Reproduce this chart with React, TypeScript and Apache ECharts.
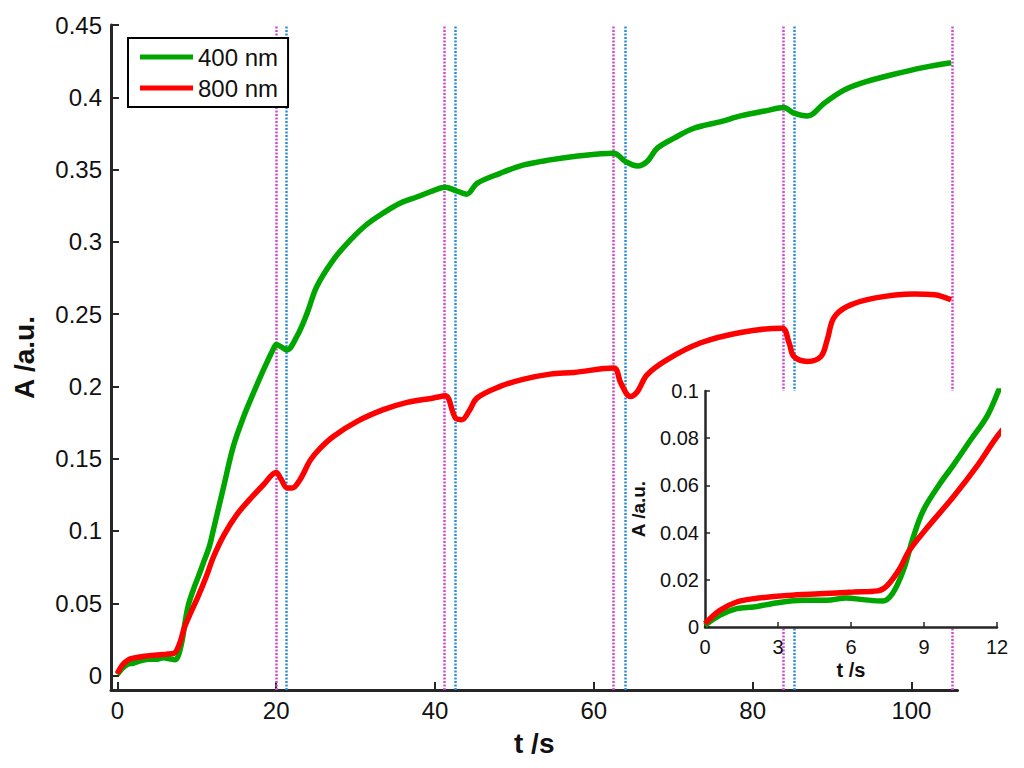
import React, { useEffect, useRef } from "react";
import * as echarts from "echarts";

// ---- data ----
const seriesNames = ["400 nm", "800 nm"];

const tGreen = [
  0, 0.6, 1.3, 2.0, 3.0, 4.0, 5.0, 5.8, 6.5, 7.3, 7.7, 8.15, 8.56, 8.97, 9.66, 10.2, 10.9, 11.6, 12.1,
  13.4, 14.6, 15.9, 17.1, 18.4, 19.8, 20.0, 20.6, 21.35, 22.6, 23.9, 25.1, 27.2, 29.3, 31.4, 33.5, 35.6,
  37.7, 39.8, 41.3, 42.6, 44.0, 45.3, 48.2, 51.2, 54.5, 57.5, 62.5, 64.0, 65.5, 66.7, 68.0, 70.1, 72.6,
  76.0, 78.5, 81.8, 83.9, 85.2, 86.9, 87.7, 89.0, 91.5, 93.6, 97.4, 101.6, 105.0,
];
const aGreen = [
  0.0007, 0.0049, 0.0078, 0.0085, 0.0103, 0.0113, 0.0113, 0.0123, 0.0116, 0.011, 0.0141, 0.024, 0.0381,
  0.0494, 0.0608, 0.0685, 0.079, 0.0895, 0.101, 0.131, 0.1585, 0.179, 0.195, 0.2115, 0.2276, 0.229, 0.2275,
  0.2253, 0.2345, 0.2507, 0.269, 0.2876, 0.301, 0.312, 0.32, 0.3267, 0.331, 0.3355, 0.3378, 0.3355, 0.333,
  0.3405, 0.3474, 0.3532, 0.3567, 0.359, 0.3613, 0.3555, 0.3525, 0.3555, 0.3648, 0.3717, 0.3786, 0.3832,
  0.3871, 0.3908, 0.3929, 0.389, 0.3871, 0.389, 0.3958, 0.405, 0.4097, 0.4154, 0.4207, 0.4239,
];

const tRed = [
  0, 0.6, 1.3, 2.0, 3.4, 4.7, 6.1, 7.1, 7.5, 8.0, 8.4, 9.1, 10.2, 11.2, 12.1, 13.4, 15.0, 16.7, 18.4,
  20.0, 20.6, 21.4, 22.0, 23.0, 24.3, 25.5, 27.2, 30.2, 33.5, 36.5, 39.8, 41.3, 42.6, 43.4, 44.3, 45.3,
  48.2, 51.2, 54.5, 57.5, 62.5, 63.4, 64.6, 65.5, 66.7, 69.2, 73.4, 78.5, 83.7, 84.6, 85.2, 86.9, 88.6,
  89.4, 90.2, 91.9, 95.3, 100.3, 102.9, 105.0,
];
const aRed = [
  0.0014, 0.007, 0.0106, 0.012, 0.0134, 0.0141, 0.0148, 0.0153, 0.0177, 0.0247, 0.0325, 0.0417, 0.0551,
  0.0685, 0.082, 0.097, 0.111, 0.122, 0.132, 0.1405, 0.136, 0.1297, 0.1297, 0.1355, 0.149, 0.157, 0.1654,
  0.1758, 0.1839, 0.189, 0.192, 0.1935, 0.178, 0.177, 0.183, 0.192, 0.2, 0.205, 0.2085, 0.2097, 0.2127,
  0.2023, 0.193, 0.1965, 0.208, 0.2184, 0.23, 0.2373, 0.2403, 0.23, 0.2207, 0.2173, 0.2207, 0.2323, 0.2472,
  0.2553, 0.2611, 0.264, 0.2634, 0.2599,
];

const pinkTimes = [20.0, 41.2, 62.5, 83.9, 105.2];
const blueTimes = [21.3, 42.5, 63.9, 85.2];

const xTicks = [0, 20, 40, 60, 80, 100];
const yTicks = [0, 0.05, 0.1, 0.15, 0.2, 0.25, 0.3, 0.35, 0.4, 0.45];
const insetXTicks = [0, 3, 6, 9, 12];
const insetYTicks = [0, 0.02, 0.04, 0.06, 0.08, 0.1];

const GREEN = "#00a600";
const RED = "#ff0000";
const PINK = "#d04ed0";
const BLUE = "#2b8fd8";
const AXIS = "#262626";
const FONT = "'Liberation Sans', Arial, Helvetica, sans-serif";

const zip = (t: number[], a: number[]) => t.map((v, i) => [v, a[i]]);

export default function App() {
  const ref = useRef<HTMLDivElement>(null);

  useEffect(() => {
    if (!ref.current) return;
    const chart = echarts.init(ref.current, undefined, { renderer: "svg" });
    const greenData = zip(tGreen, aGreen);
    const redData = zip(tRed, aRed);

    const vLines = [
      ...pinkTimes.map((t) => ({ xAxis: t, lineStyle: { color: PINK } })),
      ...blueTimes.map((t) => ({ xAxis: t, lineStyle: { color: BLUE } })),
    ];

    const lineCommon = {
      type: "line",
      symbol: "none",
      showSymbol: false,
      smooth: 0.35,
    };

    chart.setOption({
      animation: false,
      backgroundColor: "#ffffff",
      textStyle: { fontFamily: FONT, color: "#111" },
      legend: {
        data: seriesNames,
        orient: "vertical",
        left: 128,
        top: 38,
        padding: [7, 10, 7, 12],
        itemGap: 7,
        icon: "rect",
        itemWidth: 53,
        itemHeight: 5,
        borderColor: "#000",
        borderWidth: 2,
        borderRadius: 0,
        backgroundColor: "#fff",
        textStyle: { fontSize: 24, color: "#111", fontFamily: FONT, lineHeight: 24 },
        z: 30,
      },
      grid: [
        { left: 111, right: 66.5, top: 25, bottom: 78, containLabel: false },
        {
          left: 705,
          right: 27,
          top: 391,
          bottom: 141,
          show: true,
          backgroundColor: "#ffffff",
          borderWidth: 0,
          z: 20,
        },
      ],
      xAxis: [
        {
          type: "value",
          gridIndex: 0,
          min: -0.8,
          max: 105.8,
          name: "t /s",
          nameLocation: "middle",
          nameGap: 39,
          nameTextStyle: { fontSize: 28, fontWeight: "bold", color: "#111" },
          axisLine: { show: true, onZero: false, lineStyle: { color: AXIS, width: 3 } },
          axisTick: { show: true, inside: true, length: 8, customValues: xTicks, lineStyle: { color: AXIS, width: 2 } },
          axisLabel: { customValues: xTicks, fontSize: 24, margin: 8, color: "#111" },
          splitLine: { show: false },
        },
        {
          type: "value",
          gridIndex: 1,
          min: 0,
          max: 12,
          name: "t /s",
          nameLocation: "middle",
          nameGap: 33,
          nameTextStyle: { fontSize: 20, fontWeight: "bold", color: "#111" },
          axisLine: { show: true, onZero: false, lineStyle: { color: AXIS, width: 2.5 } },
          axisTick: { show: true, inside: true, length: 5, customValues: insetXTicks, lineStyle: { color: AXIS, width: 1.5 } },
          axisLabel: { customValues: insetXTicks, fontSize: 20, margin: 10, color: "#111" },
          splitLine: { show: false },
          z: 22,
        },
      ],
      yAxis: [
        {
          type: "value",
          gridIndex: 0,
          min: -0.01,
          max: 0.45,
          name: "A /a.u.",
          nameLocation: "middle",
          nameGap: 73,
          nameTextStyle: { fontSize: 28, fontWeight: "bold", color: "#111" },
          axisLine: { show: true, onZero: false, lineStyle: { color: AXIS, width: 3 } },
          axisTick: { show: true, inside: true, length: 8, customValues: yTicks, lineStyle: { color: AXIS, width: 2 } },
          axisLabel: { customValues: yTicks, fontSize: 24, margin: 9, color: "#111" },
          splitLine: { show: false },
        },
        {
          type: "value",
          gridIndex: 1,
          min: 0,
          max: 0.1,
          name: "A /a.u.",
          nameLocation: "middle",
          nameGap: 57,
          nameTextStyle: { fontSize: 19, fontWeight: "bold", color: "#111" },
          axisLine: { show: true, onZero: false, lineStyle: { color: AXIS, width: 2.5 } },
          axisTick: { show: true, inside: true, length: 5, customValues: insetYTicks, lineStyle: { color: AXIS, width: 1.5 } },
          axisLabel: { customValues: insetYTicks, fontSize: 20, margin: 6, color: "#111" },
          splitLine: { show: false },
          z: 22,
        },
      ],
      series: [
        {
          ...lineCommon,
          name: seriesNames[0],
          xAxisIndex: 0,
          yAxisIndex: 0,
          data: greenData,
          lineStyle: { color: GREEN, width: 5.5 },
          itemStyle: { color: GREEN },
          z: 3,
          markLine: {
            silent: true,
            symbol: ["none", "none"],
            label: { show: false },
            lineStyle: { type: [2, 1.5], width: 2.5 },
            data: vLines,
            z: 2,
          },
        },
        {
          ...lineCommon,
          name: seriesNames[1],
          xAxisIndex: 0,
          yAxisIndex: 0,
          data: redData,
          lineStyle: { color: RED, width: 5.5 },
          itemStyle: { color: RED },
          z: 4,
        },
        {
          ...lineCommon,
          name: seriesNames[0] + " (inset)",
          xAxisIndex: 1,
          yAxisIndex: 1,
          data: greenData,
          lineStyle: { color: GREEN, width: 5.5 },
          itemStyle: { color: GREEN },
          z: 23,
        },
        {
          ...lineCommon,
          name: seriesNames[1] + " (inset)",
          xAxisIndex: 1,
          yAxisIndex: 1,
          data: redData,
          lineStyle: { color: RED, width: 5.5 },
          itemStyle: { color: RED },
          z: 24,
        },
      ],
    });

    return () => chart.dispose();
  }, []);

  return (
    <div
      ref={ref}
      style={{ position: "fixed", left: 0, top: 0, width: 1024, height: 768, background: "#fff" }}
    />
  );
}
